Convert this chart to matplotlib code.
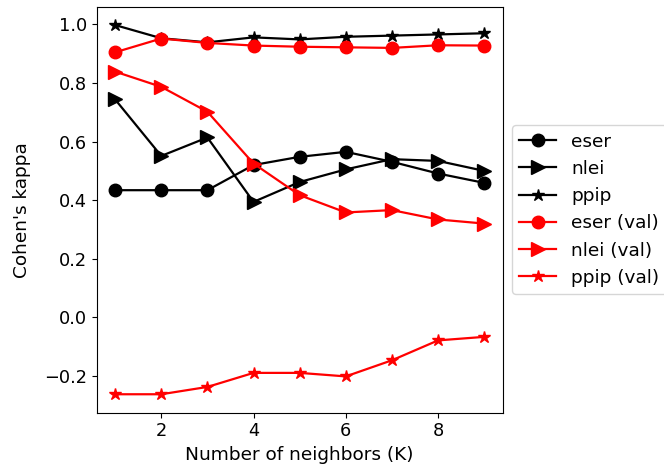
import matplotlib
matplotlib.use("Agg")
import matplotlib.pyplot as plt

k = [1, 2, 3, 4, 5, 6, 7, 8, 9]
eser = [0.434, 0.434, 0.434, 0.520, 0.548, 0.565, 0.531, 0.491, 0.459]
nlei = [0.744, 0.551, 0.614, 0.394, 0.462, 0.505, 0.540, 0.534, 0.500]
ppip = [0.998, 0.953, 0.939, 0.956, 0.949, 0.958, 0.962, 0.966, 0.970]
eser_val = [0.905, 0.952, 0.937, 0.928, 0.924, 0.922, 0.920, 0.929, 0.928]
nlei_val = [0.839, 0.787, 0.702, 0.525, 0.417, 0.358, 0.366, 0.334, 0.320]
ppip_val = [-0.263, -0.263, -0.238, -0.190, -0.190, -0.202, -0.147, -0.079, -0.067]

plt.rcParams['font.size'] = 13.3
plt.rcParams['xtick.labelsize'] = 12.8
plt.rcParams['ytick.labelsize'] = 12.8
fig = plt.figure(figsize=(6.64, 4.72), dpi=100)
ax = fig.add_axes([0.1456, 0.1256, 0.757 - 0.1456, 0.986 - 0.1256])

ms = 9
lw = 1.6
ax.plot(k, eser, color='black', marker='o', ms=ms, lw=lw, label='eser')
ax.plot(k, nlei, color='black', marker='>', ms=ms + 1, lw=lw, label='nlei')
ax.plot(k, ppip, color='black', marker='*', ms=ms, lw=lw, label='ppip')
ax.plot(k, eser_val, color='red', marker='o', ms=ms, lw=lw, label='eser (val)')
ax.plot(k, nlei_val, color='red', marker='>', ms=ms + 1, lw=lw, label='nlei (val)')
ax.plot(k, ppip_val, color='red', marker='*', ms=ms, lw=lw, label='ppip (val)')

ax.set_xlabel('Number of neighbors (K)')
ax.set_ylabel("Cohen's kappa")
ax.yaxis.set_label_coords(-0.162, 0.5)
ax.legend(loc='center left', bbox_to_anchor=(1.0, 0.5))

fig.savefig('out.png', dpi=100)
